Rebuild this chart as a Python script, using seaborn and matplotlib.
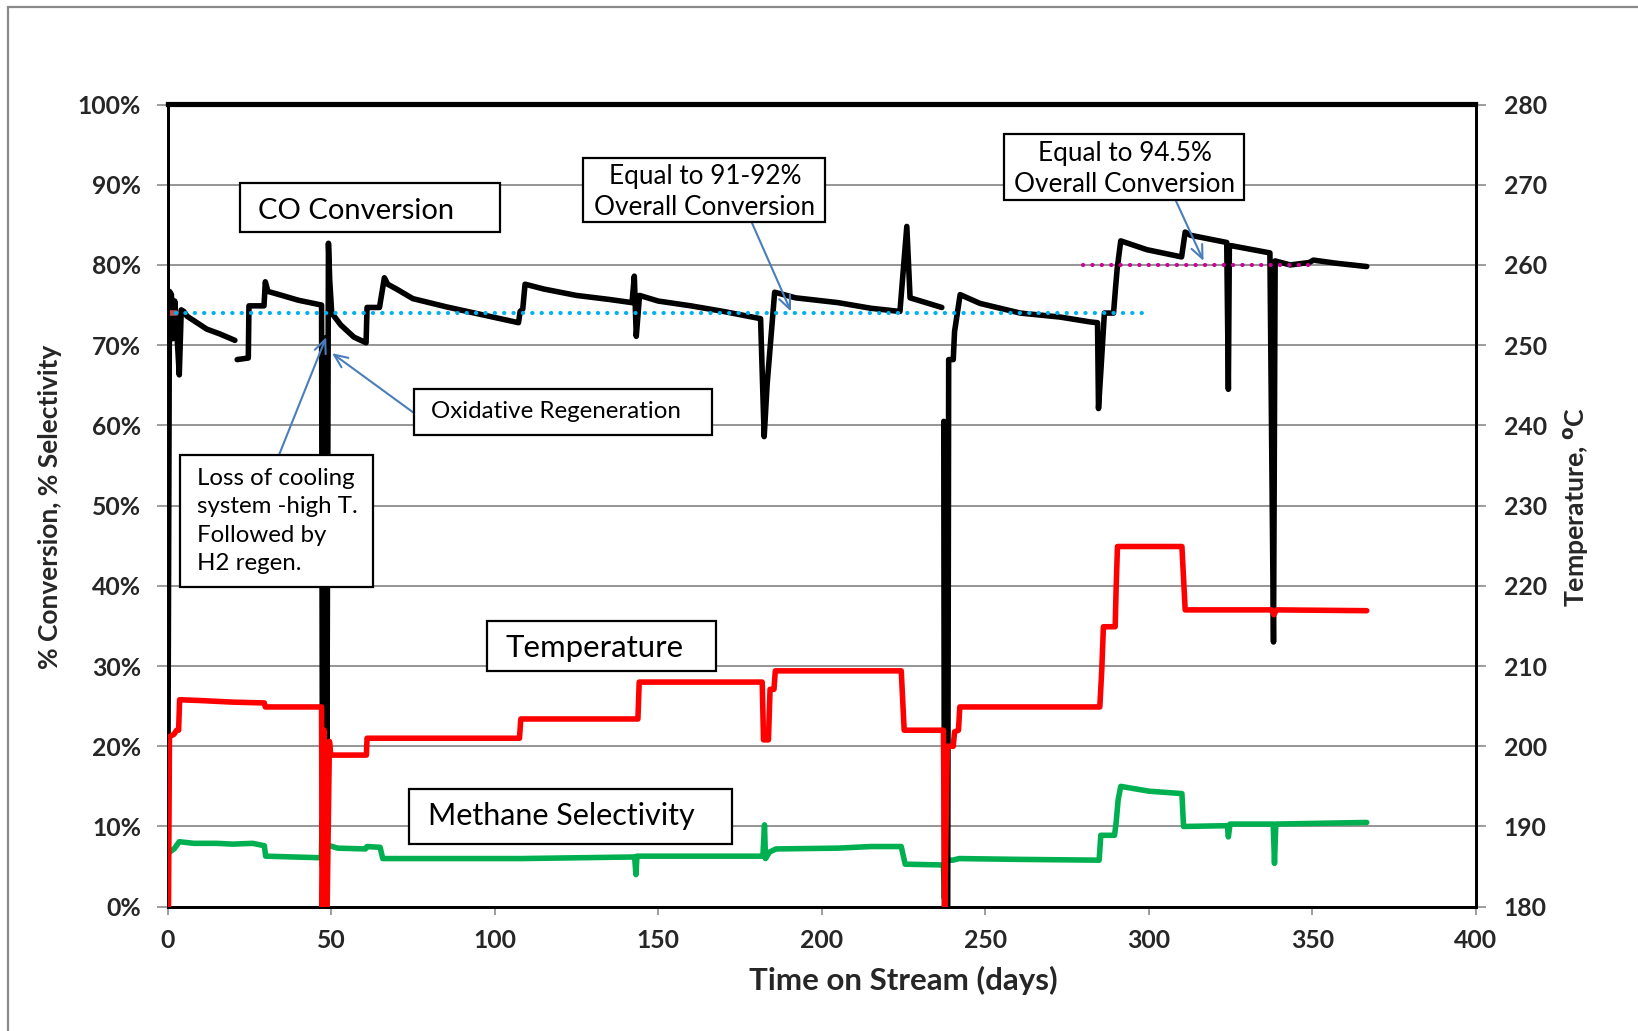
import numpy as np
import pandas as pd
import matplotlib
matplotlib.use("Agg")
import matplotlib.pyplot as plt
import seaborn as sns
from matplotlib.patches import Rectangle
from matplotlib.ticker import FuncFormatter

# ---------------- data ----------------
# CO conversion (%) vs time on stream (days); segments separate the gaps in logging
co_day = [0.0, 0.6, 1.2, 1.6, 2.2, 2.8, 3.6, 4.2, 5.0, 6.0, 9.0, 12.0, 16.0, 20.6,
          21.3, 24.7, 24.9, 29.5, 29.9, 30.7, 35.0, 40.0, 47.1, 47.4, 47.8, 48.4, 48.7,
          49.2, 49.6, 50.2, 53.0, 57.0, 60.7, 61.0, 64.8, 66.3, 67.3, 70.0, 75.0, 85.0,
          95.0, 107.3, 107.8, 108.6, 109.3, 115.0, 125.0, 135.0, 142.0, 142.7, 143.3,
          144.3, 150.0, 160.0, 170.0, 181.3, 182.4, 183.3, 184.3, 185.6, 192.0, 205.0,
          215.0, 223.9, 226.0, 227.0, 236.7,
          237.3, 237.5, 238.5, 238.8, 240.2, 240.6, 242.3, 248.4, 260.7, 272.9, 282.0,
          284.3, 284.6, 285.4, 286.4, 289.2, 289.8, 290.3, 291.4, 299.4, 310.0, 311.1,
          312.7, 323.8, 324.3, 324.6, 325.2, 337.0, 338.1, 338.6, 343.2, 349.0, 350.3,
          357.5, 366.6]
co_conv = [0.0, 76.7, 76.3, 70.8, 75.5, 72.0, 66.3, 74.4, 74.2, 73.6, 72.8, 72.0, 71.4, 70.6,
           68.2, 68.4, 74.9, 74.9, 77.9, 76.7, 76.2, 75.6, 75.0, 5.0, 70.5, 70.9, 14.0,
           82.7, 78.0, 74.0, 72.5, 71.0, 70.3, 74.7, 74.7, 78.4, 77.6, 77.0, 75.8, 74.8,
           73.9, 72.8, 74.2, 74.5, 77.6, 77.0, 76.2, 75.7, 75.3, 78.6, 71.1,
           76.2, 75.5, 74.9, 74.2, 73.3, 58.6, 65.1, 70.1, 76.6, 75.9, 75.3,
           74.6, 74.2, 84.8, 75.9, 74.7,
           60.5, 0.0, 0.0, 68.2, 68.2, 71.7, 76.3, 75.2, 74.0, 73.5, 72.9,
           72.8, 62.1, 67.3, 74.0, 74.0, 77.1, 79.5, 83.0, 81.9, 81.0, 84.1,
           83.7, 82.8, 64.5, 82.4, 82.4, 81.5, 33.0, 80.5, 80.0, 80.3, 80.6,
           80.2, 79.8]
co_gap_after = [20.6, 236.7]

# Reactor temperature (deg C)
temp_day = [0.3, 0.6, 2.0, 2.8, 3.4, 3.7, 10.0, 20.0, 29.6, 29.9, 47.1, 47.3, 47.9, 48.3,
            48.8, 49.5, 49.9, 60.8, 61.0, 107.6, 108.0, 143.8, 144.2, 181.8, 182.2, 183.7,
            184.2, 185.4, 185.8, 224.3, 225.2, 237.2, 237.6, 238.4, 240.2, 240.6, 241.8,
            242.2, 285.0, 285.6, 286.1, 289.7, 290.0, 290.4, 310.1, 311.1, 337.5, 338.2,
            339.0, 366.6]
temp_c = [180.0, 201.2, 201.5, 202.0, 202.0, 205.8, 205.7, 205.5, 205.4, 204.9, 204.9, 180.0,
          202.0, 180.0, 180.0, 200.6, 198.9, 198.9, 201.0, 201.0, 203.4, 203.4, 208.0,
          208.0, 200.8, 200.8, 207.1, 207.1, 209.4, 209.4, 202.0, 202.0, 180.0, 200.0,
          200.0, 201.8, 202.0, 204.9, 204.9, 209.5, 214.9, 214.9, 219.8, 224.9, 224.9,
          217.0, 217.0, 216.4, 217.0, 216.9]

# Methane selectivity (%)
ch4_day = [0.6, 2.0, 3.6, 8.0, 15.0, 20.0, 26.0, 29.6, 30.0, 47.0, 47.3, 47.6, 48.8, 52.0,
           60.5, 61.0, 65.0, 65.8, 108.0, 142.8, 143.2, 143.5, 182.0, 182.5, 182.8, 184.0,
           186.0, 205.0, 215.0, 224.3, 225.5, 237.2, 237.5, 237.8, 240.0, 242.0, 260.0,
           284.8, 285.3, 289.5, 290.0, 290.6, 291.4, 300.0, 310.1, 310.6, 324.0, 324.3,
           324.8, 338.0, 338.4, 338.8, 366.6]
ch4_sel = [6.8, 7.2, 8.1, 7.9, 7.9, 7.8, 7.9, 7.6, 6.3, 6.1, 10.8, 5.0, 7.7, 7.3,
           7.2, 7.5, 7.4, 6.0, 6.0, 6.2, 4.0, 6.3, 6.3, 10.2, 6.0, 6.8,
           7.2, 7.3, 7.5, 7.5, 5.3, 5.2, 1.0, 5.8, 5.8, 6.0, 5.9,
           5.8, 8.9, 8.9, 10.5, 13.3, 15.0, 14.4, 14.1, 10.0, 10.1, 8.7,
           10.3, 10.3, 5.4, 10.3, 10.5]

# Reference levels
ref_low_level = 74.0      # 91-92 % overall conversion
ref_low_span = [2.5, 300.0]
ref_high_level = 80.0     # 94.5 % overall conversion
ref_high_span = [280.0, 350.0]
start_mark_span = [0.0, 2.5]

x_ticks = [0, 50, 100, 150, 200, 250, 300, 350, 400]
pct_ticks = [0, 10, 20, 30, 40, 50, 60, 70, 80, 90, 100]
temp_ticks = [180, 190, 200, 210, 220, 230, 240, 250, 260, 270, 280]

# ---------------- frames ----------------
co_df = pd.DataFrame({"day": co_day, "conv": co_conv})
co_df["seg"] = np.searchsorted(co_gap_after, co_df["day"], side="left")
temp_df = pd.DataFrame({"day": temp_day, "temp": temp_c})
ch4_df = pd.DataFrame({"day": ch4_day, "sel": ch4_sel})
low_df = pd.DataFrame({"day": ref_low_span, "lvl": [ref_low_level] * 2})
high_df = pd.DataFrame({"day": ref_high_span, "lvl": [ref_high_level] * 2})
mark_df = pd.DataFrame({"day": start_mark_span, "lvl": [ref_low_level] * 2})

# ---------------- style ----------------
sns.set_theme(style="white")
plt.rcParams["font.family"] = ["Lato", "DejaVu Sans"]

W, H = 1638, 1031
fig = plt.figure(figsize=(W / 100, H / 100), dpi=100)
fig.patch.set_facecolor("white")


def fx(px):
    return px / W


def fy(py):
    return 1 - py / H


# outer chart frame
fig.add_artist(Rectangle((fx(8), fy(1200)), 1.2, fy(7) - fy(1200), transform=fig.transFigure,
                         fill=False, edgecolor="#8a8a8a", lw=1.6, zorder=0))

ax = fig.add_axes([fx(167.5), fy(906.7), fx(1476) - fx(167.5), fy(104.5) - fy(906.7)])
ax.set_facecolor("none")

line_kw = dict(solid_joinstyle="round", solid_capstyle="round")
LW = 4.0

sns.lineplot(data=ch4_df, x="day", y="sel", estimator=None, sort=False, color="#00B050",
             lw=LW, ax=ax, legend=False, zorder=3, **line_kw)
sns.lineplot(data=co_df, x="day", y="conv", units="seg", estimator=None, sort=False,
             color="black", lw=LW, ax=ax, legend=False, zorder=4, **line_kw)
sns.lineplot(data=mark_df, x="day", y="lvl", estimator=None, color="#C0504D", lw=LW,
             ax=ax, legend=False, zorder=5)
sns.lineplot(data=low_df, x="day", y="lvl", estimator=None, color="#00B0F0", lw=3.0,
             ax=ax, legend=False, zorder=6, linestyle=(0, (0.05, 2.2)), dash_capstyle="round")
sns.lineplot(data=high_df, x="day", y="lvl", estimator=None, color="#CC0099", lw=3.0,
             ax=ax, legend=False, zorder=6, linestyle=(0, (0.05, 2.2)), dash_capstyle="round")

ax.set_xlim(0, 400)
ax.set_ylim(0, 100)
ax.set_xticks(x_ticks)
ax.set_yticks(pct_ticks)
ax.yaxis.set_major_formatter(FuncFormatter(lambda v, p: f"{v:.0f}%"))
ax.grid(axis="y", color="#8c8c8c", lw=1.3, zorder=0)
ax.grid(axis="x", visible=False)
ax.set_axisbelow(True)
ax.set_xlabel("")
ax.set_ylabel("")

ax2 = ax.twinx()
sns.lineplot(data=temp_df, x="day", y="temp", estimator=None, sort=False, color="#FF0000",
             lw=LW, ax=ax2, legend=False, zorder=3, **line_kw)
ax2.set_ylim(180, 280)
ax2.set_yticks(temp_ticks)
ax2.set_ylabel("")
ax2.set_xlim(0, 400)

for a in (ax, ax2):
    for s in a.spines.values():
        s.set_color("black")
        s.set_linewidth(2.0)
    a.spines["top"].set_linewidth(3.0)

TICK_SIZE = 17.8
ax.tick_params(axis="y", which="major", direction="out", length=8, width=1.2,
               color="#8c8c8c", pad=11, left=True, labelsize=TICK_SIZE)
ax.tick_params(axis="x", which="major", direction="out", length=6, width=1.2,
               color="#8c8c8c", pad=10, bottom=True, labelsize=TICK_SIZE)
ax2.tick_params(axis="y", which="major", direction="out", length=7, width=1.2,
                color="#8c8c8c", pad=13, right=True, labelsize=TICK_SIZE)
for lab in ax.get_xticklabels() + ax.get_yticklabels() + ax2.get_yticklabels():
    lab.set_fontweight("bold")

# axis titles
fig.text(fx(50), fy(507), "% Conversion, % Selectivity", rotation=90, ha="center",
         va="center", fontsize=19, fontweight="bold")
fig.text(fx(1576), fy(507), "Temperature, $^{\\mathbf{o}}$C", rotation=90, ha="center",
         va="center", fontsize=19.2, fontweight="bold")
fig.text(fx(903), fy(980), "Time on Stream (days)", ha="center", va="center",
         fontsize=22.5, fontweight="bold")


# ---------------- call-out boxes ----------------
def box(x0, y0, x1, y1):
    fig.add_artist(Rectangle((fx(x0), fy(y1)), fx(x1) - fx(x0), fy(y0) - fy(y1),
                             transform=fig.transFigure, facecolor="white",
                             edgecolor="black", lw=1.6, zorder=8))


def label(x, y, s, size, ha="left", ls=1.2):
    fig.text(fx(x), fy(y), s, ha=ha, va="center", fontsize=size, zorder=9,
             linespacing=ls, color="black")


box(240, 183, 500, 232)
label(258, 211, "CO Conversion", 21)

box(583, 158, 825, 222)
label(705, 192, "Equal to 91-92%\nOverall Conversion", 18.8, ha="center", ls=1.3)

box(1004, 134, 1244, 200)
label(1125, 169, "Equal to 94.5%\nOverall Conversion", 18.8, ha="center", ls=1.3)

box(414, 389, 712, 435)
label(431, 412, "Oxidative Regeneration", 17.4)

box(180, 455, 373, 587)
label(197, 521, "Loss of cooling\nsystem -high T.\nFollowed by\nH2 regen.", 17.3, ls=1.42)

box(487, 621, 716, 671)
label(506, 648, "Temperature", 22.4)

box(409, 789, 732, 844)
label(428, 816, "Methane Selectivity", 22.0)

# arrows from the boxes to the curve
arrow_kw = dict(arrowstyle="->,head_length=0.8,head_width=0.35", color="#4A7EBB", lw=1.5,
                shrinkA=0, shrinkB=0)
ax.annotate("", xy=(48.5, 71.0), xycoords="data", xytext=(fx(279), fy(455)),
            textcoords="figure fraction", arrowprops=arrow_kw, zorder=7)
ax.annotate("", xy=(50.3, 69.0), xycoords="data", xytext=(fx(414), fy(413)),
            textcoords="figure fraction", arrowprops=arrow_kw, zorder=7)
ax.annotate("", xy=(190.6, 74.2), xycoords="data", xytext=(fx(752), fy(223)),
            textcoords="figure fraction", arrowprops=arrow_kw, zorder=7)
ax.annotate("", xy=(316.7, 80.5), xycoords="data", xytext=(fx(1176), fy(201)),
            textcoords="figure fraction", arrowprops=arrow_kw, zorder=7)

fig.savefig("out.png", dpi=100, facecolor="white")
